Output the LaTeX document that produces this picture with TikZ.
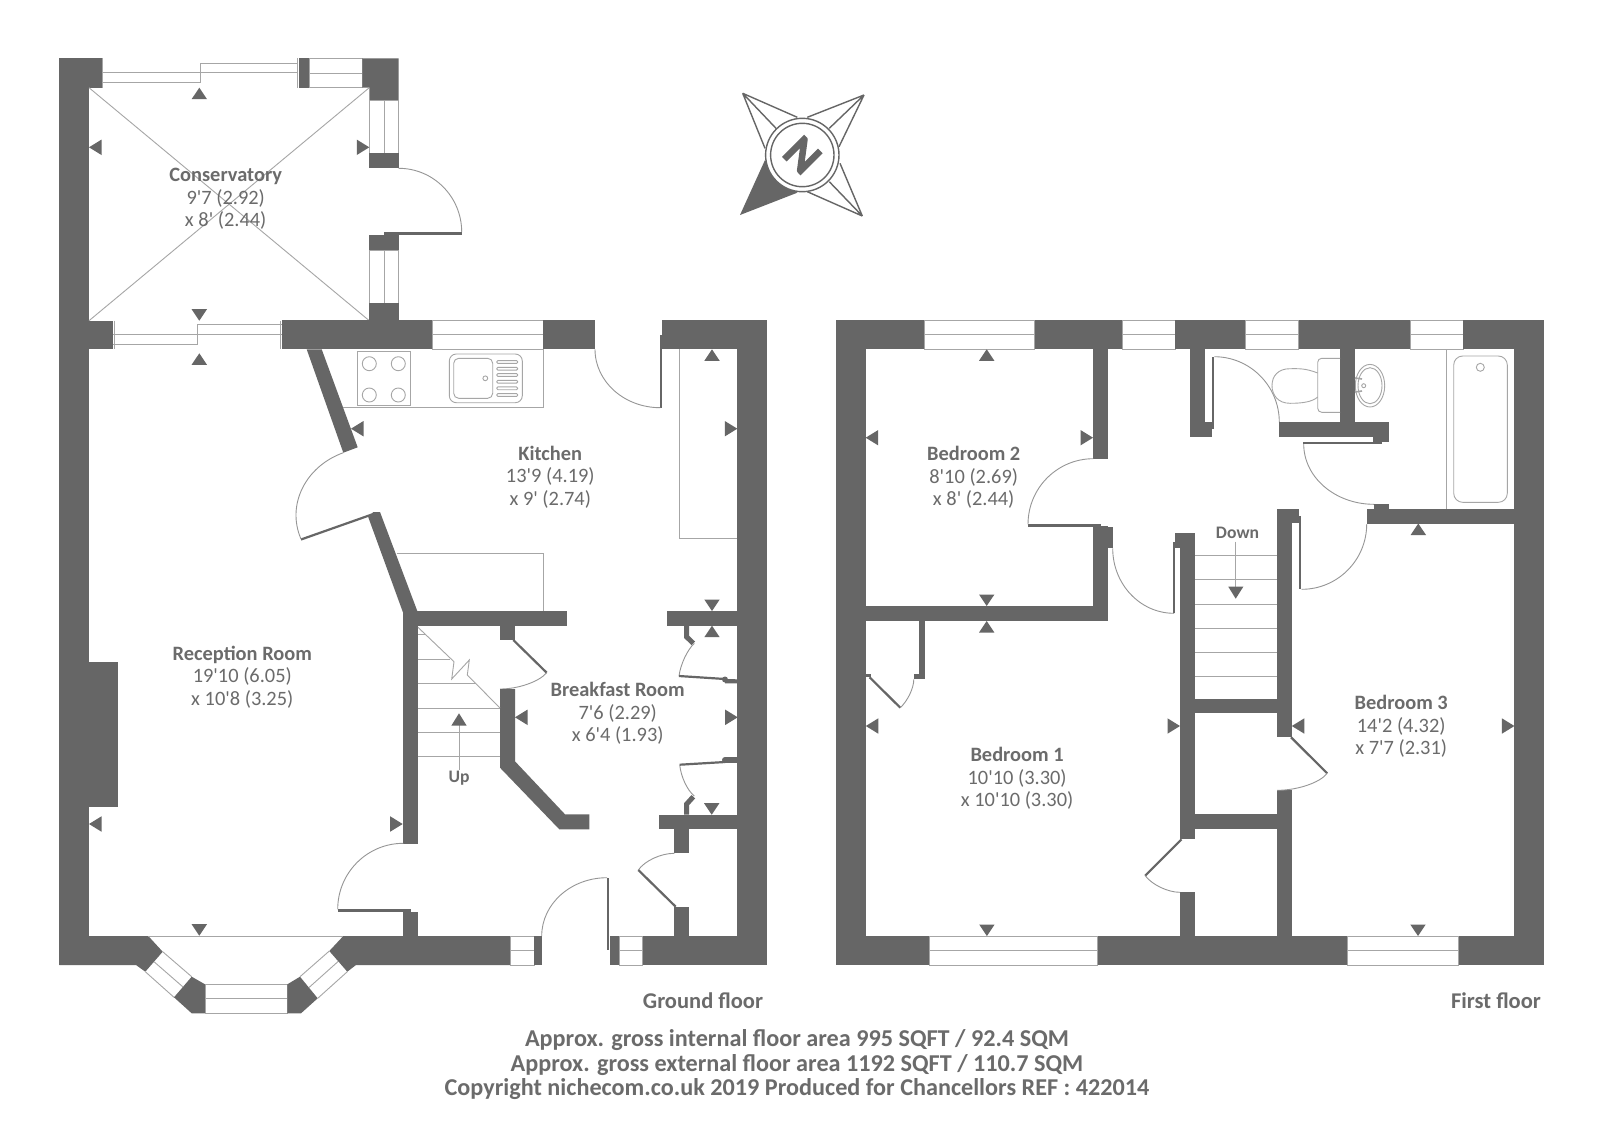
\documentclass[tikz,border=0pt]{standalone}
\usepackage{fontspec}
\newfontfamily\lab{Carlito}
\newfontfamily\labheavy[BoldFeatures={FakeBold=3}]{Carlito}
\usetikzlibrary{calc}
\definecolor{wallc}{HTML}{666666}
\definecolor{linec}{HTML}{A6A6A6}
\definecolor{swingc}{HTML}{969696}
\definecolor{textc}{HTML}{6B6B6B}
\tikzset{
  wall/.style={fill=wallc,draw=none},
  thinl/.style={draw=linec,line width=0.9pt},
  swing/.style={draw=swingc,line width=0.9pt},
  leafl/.style={draw=wallc,line width=2.2pt},
  tip/.style={fill=wallc,draw=none},
  room/.style={font=\lab\fontsize{20.4}{22.5}\selectfont,text=textc,align=center,inner sep=0pt},
  tag/.style={font=\lab\bfseries\fontsize{17.6}{19}\selectfont,text=textc,inner sep=0pt},
  floorname/.style={font=\lab\bfseries\fontsize{22.5}{25}\selectfont,text=textc,inner sep=0pt},
  foot/.style={font=\lab\bfseries\fontsize{24.2}{24.5}\selectfont,text=textc,align=center,inner sep=0pt},
  compassl/.style={draw=wallc,line width=1.4pt}
}
\newcommand\wallrect[4]{\fill[wall] (#1,#2) rectangle (#3,#4);}
\newcommand\qarc[3]{\draw[swing] #1 .. controls ($#1!0.5523!#2$) and ($#3!0.5523!#2$) .. #3;}
% horizontal window: x1 x2 ytop ybot
\newcommand\winh[4]{\draw[thinl] (#1,#3) rectangle (#2,#4); \draw[thinl] (#1,{(#3+#4)/2}) -- (#2,{(#3+#4)/2});}
% vertical window: xl xr y1 y2
\newcommand\winv[4]{\draw[thinl] (#1,#3) rectangle (#2,#4); \draw[thinl] ({(#1+#2)/2},#3) -- ({(#1+#2)/2},#4);}
\newcommand\tipup[2]{\fill[tip] (#1,#2) -- ++(-7.7,11.5) -- ++(15.4,0) -- cycle;}
\newcommand\tipdown[2]{\fill[tip] (#1,#2) -- ++(-7.7,-11.5) -- ++(15.4,0) -- cycle;}
\newcommand\tipleft[2]{\fill[tip] (#1,#2) -- ++(12.5,-7.7) -- ++(0,15.4) -- cycle;}
\newcommand\tipright[2]{\fill[tip] (#1,#2) -- ++(-12.5,-7.7) -- ++(0,15.4) -- cycle;}
\begin{document}
\begin{tikzpicture}[x=1pt,y=-1pt]
\useasboundingbox (0,0) rectangle (1600,1136);
\fill[white] (0,0) rectangle (1600,1136);

%% ===== GROUND FLOOR =====
% conservatory top
\wallrect{59.3}{58.3}{89}{965}
\wallrect{59.3}{58.3}{101.7}{87.7}
\draw[thinl] (102.3,58.3) -- (102.3,87.7);
\draw[thinl] (102,72.7) -- (298,72.7) (102,82.7) -- (200,82.7) -- (200,63.3) -- (298,63.3);
\draw[thinl] (297.5,58.3) -- (297.5,87.7);
\wallrect{299.3}{58.3}{309.3}{87.7}
\winh{309.3}{362.3}{58.3}{87.7}
\fill[wall] (362.3,58.3) -- (398.7,58.3) -- (398.7,100) -- (369.3,100) -- (369.3,87.7) -- (362.3,87.7) -- cycle;
\winv{369.3}{398.7}{100}{153.3}
\wallrect{369.3}{153.3}{398.7}{167.7}
\wallrect{369.3}{235}{398.7}{250}
\wallrect{384}{232.3}{461.7}{235}
\winv{369.3}{398.7}{250}{303.3}
\wallrect{369.3}{303.3}{398.7}{321}
\qarc{(398.7,168.3)}{(461.7,168.3)}{(461.7,232)}
\draw[thinl] (89,87.7) -- (369.3,320.7) (369.3,87.7) -- (89,320.7);
% conservatory / reception wall
\wallrect{89}{320.7}{113.3}{349.3}
\draw[thinl] (114.7,320.7) -- (114.7,349.3) (280.7,320.7) -- (280.7,349.3);
\draw[thinl] (113.3,334.3) -- (281.7,334.3) (113.3,344.3) -- (197.3,344.3) -- (197.3,324.3) -- (281.7,324.3);
\wallrect{281.7}{320.3}{432.7}{349.3}
\winh{432.7}{543.3}{320.3}{349.3}
\wallrect{543.3}{320.3}{594.7}{349.3}
\wallrect{662}{320.3}{766.7}{349.3}
\wallrect{660.3}{335}{662.3}{407.7}
\qarc{(595,349.3)}{(595,407.7)}{(660.3,407.7)}
\wallrect{737.3}{320.3}{766.7}{965}
% angled walls
\fill[wall] (306.7,349.3) -- (321.7,349.3) -- (357.7,447.3) -- (343.3,452.7) -- cycle;
\fill[wall] (373.3,512) -- (380,512) -- (417.3,611) -- (403.3,613.3) -- (368.3,517.3) -- cycle;
\draw[leafl] (301,539.5) -- (373.3,514);
\draw[swing] (343.3,452.7) .. controls ($(343.3,452.7)!0.5523!(274.3,477.7)$) and ($(301,539)!0.5523!(274.3,477.7)$) .. (301,539);
\wallrect{403}{611}{566.7}{625.7}
\wallrect{403}{611}{418}{844}
\qarc{(337.7,909.3)}{(337.7,843.3)}{(403.3,843.3)}
\wallrect{337.7}{909.3}{411}{911.7}
\wallrect{403}{911.7}{418.3}{936}
% kitchen units
\draw[thinl] (343.3,407.7) -- (543.3,407.7) -- (543.3,349.3);
\draw[thinl] (357.3,351.7) rectangle (410.7,405);
\foreach \cx/\cy in {369.3/363.7,398.3/363.7,369.3/395,398.3/395} \draw[thinl] (\cx,\cy) circle[radius=7];
\draw[thinl,rounded corners=7pt] (449.3,354) rectangle (522.3,402.7);
\draw[thinl,rounded corners=5pt] (453.7,358.3) rectangle (492.7,398.3);
\draw[thinl] (485.3,378.3) circle[radius=2.4];
\foreach \by in {362,368.7,375,381.7,388.3,395} \draw[thinl,rounded corners=1.2pt] (496.7,\by-1.4) rectangle (517.7,\by+1.4);
\draw[thinl] (679.3,349.3) -- (679.3,538.7) -- (737.3,538.7);
\draw[thinl] (396.7,553) -- (543.7,553) -- (543.7,611);
% under-stairs door and central wall
\wallrect{500}{625.7}{515.3}{640}
\draw[leafl] (513.3,640) -- (546.7,672.7);
\qarc{(546.7,672.7)}{(533,689)}{(500,689)}
\fill[wall] (500,689) -- (515,689) -- (515,761.3) -- (565,814.3) -- (589.3,814.3) -- (589.3,829.3) -- (559.3,829.3) -- (500,767.7) -- cycle;
% stairs
\foreach \sy/\sx in {634.7/425,659.3/450,683.7/476,708/500,732.3/500,756.3/500} \draw[thinl] (418,\sy) -- (\sx,\sy);
\draw[thinl] (418,627.3) -- (454,661.7) -- (451.7,679) -- (469.3,660) -- (467.3,675) -- (500,708);
\draw[thinl] (459,770) -- (459,725);
\fill[tip] (459,713.3) -- (451.3,725.7) -- (466.7,725.7) -- cycle;
\node[tag] (upword) at (459,778.5) {Up};
% cupboards right
\wallrect{666.7}{610.7}{737.7}{625.7}
\draw[draw=wallc,line width=5pt] (686.7,625.7) -- (686.7,637) -- (693.3,643.3);
\qarc{(694.3,643.3)}{(681.7,655)}{(679,676)}
\draw[leafl] (679,676) -- (725,679);
\fill[wall] (725,679) -- (737.7,679.3) -- (737.7,683.3) -- (725,683.3) -- cycle;
\fill[wall] (725,679.5) circle[radius=3];
\draw[leafl] (679.7,764.7) -- (725,762);
\fill[wall] (725,757.3) rectangle (737.7,762.7);
\fill[wall] (725,760) circle[radius=3];
\qarc{(679.7,764.7)}{(681.7,786)}{(694.3,796)}
\draw[draw=wallc,line width=5pt] (686.7,814.7) -- (686.7,804) -- (693.3,796.7);
\wallrect{659.3}{814.7}{737.7}{829.3}
\wallrect{674.3}{829.3}{689}{853.3}
\draw[leafl] (675.7,906.7) -- (638.3,870);
\qarc{(638.3,870)}{(650,853.3)}{(674.3,853.3)}
\wallrect{674.3}{906.7}{689}{936}
% bottom wall and bay
\fill[wall] (89,936) -- (148.3,936) -- (162.7,951.7) -- (145.3,971.7) -- (136,965) -- (59.3,965) -- (59.3,936) -- cycle;
\draw[thinl] (162.7,951.7) -- (191.7,976.7) (145.3,971.7) -- (174,997.3) (154,961.7) -- (182.7,986.7);
\fill[wall] (191.7,976.7) -- (174,997.3) -- (191.7,1013.3) -- (205,1013.3) -- (205,984.3) -- cycle;
\winh{205}{287.3}{984.3}{1013.3}
\fill[wall] (287.3,984.3) -- (287.3,1013.3) -- (301,1013.3) -- (317.7,998.3) -- (300,976.7) -- cycle;
\draw[thinl] (300,976.7) -- (329.3,951) (317.7,998.3) -- (347.3,971.7) (309,987.5) -- (338.3,961.3);
\fill[wall] (329.3,951) -- (347.3,971.7) -- (356,965) -- (510,965) -- (510,936) -- (343.3,936) -- cycle;
\draw[thinl] (148.3,936) -- (343.3,936);
\winh{510}{534}{936}{965}
\wallrect{534}{936}{541.7}{965}
\wallrect{607}{877.7}{609.3}{950}
\qarc{(541.7,936)}{(541.7,877.7)}{(607,877.7)}
\wallrect{610}{936}{619}{965}
\winh{619}{642.7}{936}{965}
\wallrect{642.7}{936}{766.7}{965}
\wallrect{89}{661.7}{118}{807.3}

% ground floor markers
\tipup{199.3}{87.7} \tipleft{89}{147.3} \tipright{369.3}{147.3} \tipdown{199.3}{320.7}
\tipup{199.3}{353.3} \tipleft{89}{824} \tipright{402.7}{824} \tipdown{199.3}{935.7}
\tipleft{351}{428.7} \tipup{712}{349.3} \tipright{737.3}{428.7} \tipdown{712}{611}
\tipup{712}{625.7} \tipleft{515}{717.3} \tipright{737.7}{717.3} \tipdown{711.7}{814.7}

%% ===== FIRST FLOOR =====
\wallrect{836.3}{320.3}{865.7}{965}
\wallrect{836.3}{320.3}{924}{349.3}
\winh{924}{1034.7}{320.3}{349.3}
\wallrect{1034.7}{320.3}{1122.3}{349.3}
\winh{1122.3}{1175.3}{320.3}{349.3}
\wallrect{1175.3}{320.3}{1245.7}{349.3}
\winh{1245.7}{1298.7}{320.3}{349.3}
\wallrect{1298.7}{320.3}{1410}{349.3}
\winh{1410}{1463.3}{320.3}{349.3}
\wallrect{1463.3}{320.3}{1543.7}{349.3}
\wallrect{1514.3}{320.3}{1543.7}{965}
% bedroom 2 walls
\wallrect{1093}{349.3}{1108}{458.7}
\wallrect{1028}{524.3}{1100.7}{526.7}
\qarc{(1028,524.3)}{(1028,458.7)}{(1093.3,458.7)}
\wallrect{1093}{526}{1108}{621}
\wallrect{1100.7}{526.7}{1112.7}{548.3}
\wallrect{865.7}{606}{1108}{621}
% landing door
\qarc{(1112.7,548.3)}{(1112.7,613.3)}{(1174,613.3)}
\wallrect{1173.3}{541.7}{1175.3}{613.3}
\wallrect{1175.3}{533.3}{1195}{548.3}
\wallrect{1180}{533.3}{1195}{839.3}
\wallrect{1180}{892.3}{1195}{936}
\wallrect{1195}{698.7}{1277}{713.3}
\wallrect{1195}{814.3}{1277}{829.3}
\wallrect{1276.7}{509.3}{1292}{737.3}
\wallrect{1276.7}{790.3}{1292}{936}
% bedroom 3 and bedroom 1 cupboard doors
\draw[leafl] (1291,737.3) -- (1327.2,773.3);
\qarc{(1327.2,773.3)}{(1314,790.3)}{(1277,790.3)}
\draw[leafl] (1181.5,839.3) -- (1145.2,875.7);
\qarc{(1145.2,875.7)}{(1158,892.3)}{(1180,892.3)}
% bedroom 1 closet
\wallrect{918.5}{621}{924.5}{679.3}
\wallrect{913.8}{674}{924.5}{679.3}
\wallrect{865.7}{674}{871}{677}
\draw[leafl] (869.6,677.3) -- (900.3,707.7);
\qarc{(900.3,707.7)}{(913.8,695)}{(913.8,679.3)}
% bathroom & WC walls
\wallrect{1189.7}{349.3}{1205}{437}
\wallrect{1189.7}{421.7}{1212.3}{437}
\wallrect{1211.7}{356.7}{1214.3}{429.3}
\qarc{(1214.3,356.7)}{(1279.3,356.7)}{(1279.3,422.3)}
\wallrect{1279.3}{421.7}{1389}{437}
\wallrect{1373.3}{437}{1389}{441.7}
\wallrect{1303.3}{441.7}{1381.7}{444}
\wallrect{1340}{349.3}{1355}{421.7}
\qarc{(1303.7,444)}{(1303.7,504.3)}{(1374,504.3)}
\wallrect{1374}{504.3}{1389}{509.3}
\wallrect{1366.7}{509.3}{1514.3}{524}
\qarc{(1366.7,524)}{(1366.7,589.3)}{(1301.7,589.3)}
\wallrect{1299}{516}{1301.3}{589.3}
\wallrect{1276.7}{509.3}{1299}{523.3}
% bathroom fittings
\draw[thinl] (1446.3,349.3) -- (1446.3,509.3);
\draw[thinl,rounded corners=9pt] (1453.7,356) rectangle (1507.3,502.3);
\draw[thinl] (1480.3,367.3) circle[radius=4];
\draw[thinl,rounded corners=4pt] (1340,358.3) -- (1317.7,358.3) -- (1317.7,412.3) -- (1340,412.3);
\draw[thinl] (1317.7,373) .. controls (1305,368) and (1298,368.7) .. (1290,368.7) .. controls (1278,368.7) and (1272,376) .. (1272,385.7) .. controls (1272,395) and (1278,403.3) .. (1290,403.3) .. controls (1302,403.3) and (1312,402) .. (1317.7,397);
\begin{scope}
\clip (1355,360) rectangle (1390,412);
\draw[thinl] (1370,385.7) ellipse[x radius=14.7,y radius=21.3];
\draw[thinl] (1370,385.7) ellipse[x radius=12,y radius=18];
\end{scope}
\draw[thinl] (1363.7,385.7) circle[radius=2];
\draw[thinl,line width=1.6pt] (1355,378) -- (1362,379) (1355,392) -- (1362,391);
% first floor stairs
\foreach \sy in {555.7,579.7,604,628.3,652.3,676.7} \draw[thinl] (1195,\sy) -- (1277,\sy);
\draw[thinl] (1235.7,541.7) -- (1235.7,586.7);
\fill[tip] (1235.7,598.7) -- (1228.3,586.7) -- (1243.3,586.7) -- cycle;
\node[tag] (downword) at (1237.5,533) {Down};
% bottom wall
\wallrect{836.3}{936}{929.2}{965}
\winh{929.2}{1097.7}{936}{965}
\wallrect{1097.7}{936}{1347.2}{965}
\winh{1347.2}{1458.5}{936}{965}
\wallrect{1458.5}{936}{1543.7}{965}
% first floor markers
\tipup{986.7}{349.3} \tipleft{865.7}{437.7} \tipright{1093}{437.7} \tipdown{986.7}{606}
\tipup{986.7}{621} \tipleft{865.8}{726} \tipright{1180}{726} \tipdown{986.9}{936}
\tipup{1418.3}{523.5} \tipleft{1291.8}{726} \tipright{1514.4}{726} \tipdown{1418}{936}

%% ===== COMPASS =====
\draw[compassl] (742.7,93.3) -- (797.3,117.3) (742.7,93.3) -- (765,148.3) (742.7,93.3) -- (776,128.3);
\draw[compassl] (864,95) -- (807.3,117.3) (864,95) -- (839,146.7) (864,95) -- (829.3,128.3);
\draw[compassl] (862.3,216) -- (840,163.3) (862.3,216) -- (807.3,191.7) (862.3,216) -- (829.3,181.7);
\fill[wall] (740,215) -- (765,160) -- (775,175) -- (797.3,192.7) -- cycle;
\draw[compassl,fill=white] (802.3,155) circle[radius=36.7];
\draw[compassl] (802.3,155) circle[radius=31.7];
\node[rotate=-45,font=\labheavy\bfseries\fontsize{46}{46}\selectfont,text=wallc,inner sep=0pt] (compassn) at (802.3,155) {N};

%% ===== TEXT =====
\node[room] (conservatory) at (225.7,199) {\textbf{Conservatory}\\9'7 (2.92)\\x 8' (2.44)};
\node[room] (kitchen) at (550.3,477) {\textbf{Kitchen}\\13'9 (4.19)\\x 9' (2.74)};
\node[room] (reception) at (242.3,677) {\textbf{Reception Room}\\19'10 (6.05)\\x 10'8 (3.25)};
\node[room] (breakfast) at (617.7,713.7) {\textbf{Breakfast Room}\\7'6 (2.29)\\x 6'4 (1.93)};
\node[room] (bedtwo) at (973.7,477.5) {\textbf{Bedroom 2}\\8'10 (2.69)\\x 8' (2.44)};
\node[room] (bedone) at (1017.1,778.7) {\textbf{Bedroom 1}\\10'10 (3.30)\\x 10'10 (3.30)};
\node[room] (bedthree) at (1401.2,726.7) {\textbf{Bedroom 3}\\14'2 (4.32)\\x 7'7 (2.31)};
\node[floorname] (groundname) at (703,1000.5) {Ground floor};
\node[floorname] (firstname) at (1496,1000.5) {First floor};
\node[foot] (footer) at (797,1065) {Approx. gross internal floor area 995 SQFT / 92.4 SQM\\Approx. gross external floor area 1192 SQFT / 110.7 SQM\\Copyright nichecom.co.uk 2019 Produced for Chancellors REF : 422014};
\end{tikzpicture}
\end{document}
